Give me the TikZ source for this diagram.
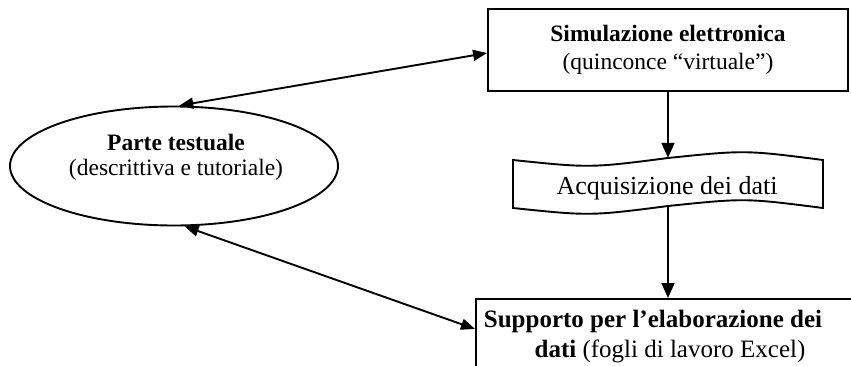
\documentclass[tikz,border=0pt]{standalone}
\usepackage{fontspec}
\setmainfont{Liberation Serif}
\usetikzlibrary{arrows.meta,shapes.geometric}
\begin{document}
\begin{tikzpicture}[x=1pt,y=-1pt,
  line/.style={line width=1.9pt},
  conn/.style={line width=1.9pt, {Triangle[length=14pt,width=11pt]}-{Triangle[length=14pt,width=11pt]}},
  flow/.style={line width=1.9pt, -{Triangle[length=15pt,width=13pt]}},
  lbl/.style={inner sep=0pt, anchor=base},
  mainfnt/.style={font=\fontsize{23.5}{28}\selectfont},
  boldfnt/.style={font=\fontsize{23.5}{28}\selectfont\bfseries},
  bigfnt/.style={font=\fontsize{26}{31}\selectfont},
  supfnt/.style={font=\fontsize{25}{30}\selectfont},
  shapebox/.style={draw, line width=1.9pt, inner sep=0pt}
]
\useasboundingbox (0,0) rectangle (851,365);
\fill[white] (0,0) rectangle (851,365);
\clip (0,0) rectangle (851,365);

% shapes
\node[shapebox, ellipse, minimum width=328pt, minimum height=119pt] (ell) at (174,166) {};
\node[shapebox, minimum width=360pt, minimum height=82pt] (sim) at (668,50) {};
\node[inner sep=0pt, minimum width=310pt, minimum height=48pt] (acq) at (668,182) {};
\draw[line, line join=miter] (513,160) .. controls (590,168) .. (668,158)
   .. controls (745,150) .. (823,160) -- (823,208)
   .. controls (745,198) .. (668,206) .. controls (590,216) .. (513,208) -- cycle;
\node[shapebox, minimum width=400pt, minimum height=120pt, anchor=north west] (sup) at (475,298) {};

% texts
\node[lbl, boldfnt] (sim1) at (668,41) {Simulazione elettronica};
\node[lbl, mainfnt] (sim2) at (668,69) {(quinconce “virtuale”)};
\node[lbl, boldfnt] (ell1) at (176,150) {Parte testuale};
\node[lbl, mainfnt] (ell2) at (176,175) {(descrittiva e tutoriale)};
\node[lbl, bigfnt] (acqt) at (667,194) {Acquisizione dei dati};
\node[lbl, supfnt] (sup1) at (653,327) {\bfseries Supporto per l’elaborazione dei};
\node[lbl, supfnt] (sup2) at (670,357) {\textbf{dati} (fogli di lavoro Excel)};

% connectors
\draw[conn] (ell.85) -- ([yshift=-3pt]sim.west);
\draw[conn] (ell.-80) -- ([yshift=30pt]sup.west);
\draw[flow] (sim.south) -- (acq.north);
\draw[flow] (acq.south) -- (acq.south |- sup.north);
\end{tikzpicture}
\end{document}
